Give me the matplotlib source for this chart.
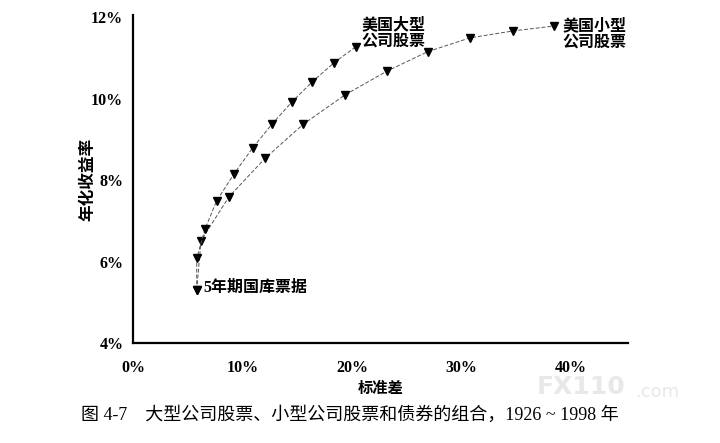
import matplotlib
matplotlib.use("Agg")
import matplotlib.pyplot as plt
from matplotlib.ticker import FuncFormatter

plt.rcParams['font.family'] = ['Noto Sans CJK SC', 'DejaVu Sans']

# 标准差(%) 与 年化收益率(%)
large_sd = [5.82, 5.82, 6.58, 7.64, 9.25, 10.93, 12.69, 14.52, 16.37, 18.36, 20.34]
large_ret = [5.30, 6.08, 6.80, 7.49, 8.16, 8.79, 9.37, 9.92, 10.41, 10.88, 11.27]
small_sd = [5.82, 6.21, 8.77, 12.05, 15.55, 19.36, 23.17, 26.91, 30.78, 34.73, 38.47]
small_ret = [5.30, 6.51, 7.59, 8.53, 9.37, 10.09, 10.67, 11.15, 11.49, 11.66, 11.78]

x_ticks = [0, 10, 20, 30, 40]
y_ticks = [4, 6, 8, 10, 12]

num_font = ['Liberation Serif', 'Noto Sans CJK SC']

fig = plt.figure(figsize=(7.2, 4.43), dpi=100)
ax = fig.add_axes([0.1847, 0.2257, 0.6875, 0.7404])

line_kw = dict(color='#555555', lw=0.7, linestyle=(0, (4, 2)),
               marker='v', markersize=6, markerfacecolor='black',
               markeredgecolor='black')
ax.plot(small_sd, small_ret, **line_kw)
ax.plot(large_sd, large_ret, **line_kw)

ax.set_xlim(0, 45.2)
ax.set_ylim(4, 12.05)
ax.set_xticks(x_ticks)
ax.set_yticks(y_ticks)
pct = FuncFormatter(lambda v, p: f"{v:.0f}%")
ax.xaxis.set_major_formatter(pct)
ax.yaxis.set_major_formatter(pct)
ax.tick_params(length=0)
ax.tick_params(axis='x', pad=12)
ax.tick_params(axis='y', pad=7)
for lab in ax.get_xticklabels() + ax.get_yticklabels():
    lab.set_family(num_font)
    lab.set_fontweight('bold')
    lab.set_fontsize(11.5)

for s in ['top', 'right']:
    ax.spines[s].set_visible(False)
for s in ['left', 'bottom']:
    ax.spines[s].set_linewidth(1.6)

ax.set_xlabel('标准差', fontsize=11, fontweight='bold', labelpad=3)
ax.set_ylabel('年化收益率', fontsize=12, fontweight='bold', labelpad=-4)

ax.text(20.9, 11.62, '美国大型\n公司股票', fontsize=11.5, fontweight='bold',
        va='center', ha='left', linespacing=1.05)
ax.text(39.2, 11.6, '美国小型\n公司股票', fontsize=11.5, fontweight='bold',
        va='center', ha='left', linespacing=1.05)
ax.text(6.4, 5.35, '5年期国库票据', family=num_font, fontsize=11.5,
        fontweight='bold', va='center', ha='left')

fig.text(0.745, 0.127, 'FX110', fontsize=18, fontweight='bold', color='#e8e8e8',
         family='DejaVu Sans', ha='left', va='center')
fig.text(0.882, 0.114, '.com', fontsize=13, color='#e8e8e8',
         family='DejaVu Sans', ha='left', va='center')

fig.text(0.112, 0.063, '图 4-7    大型公司股票、小型公司股票和债券的组合，1926 ~ 1998 年',
         family=num_font, fontsize=13, ha='left', va='center')

fig.savefig('out.png', dpi=100)
